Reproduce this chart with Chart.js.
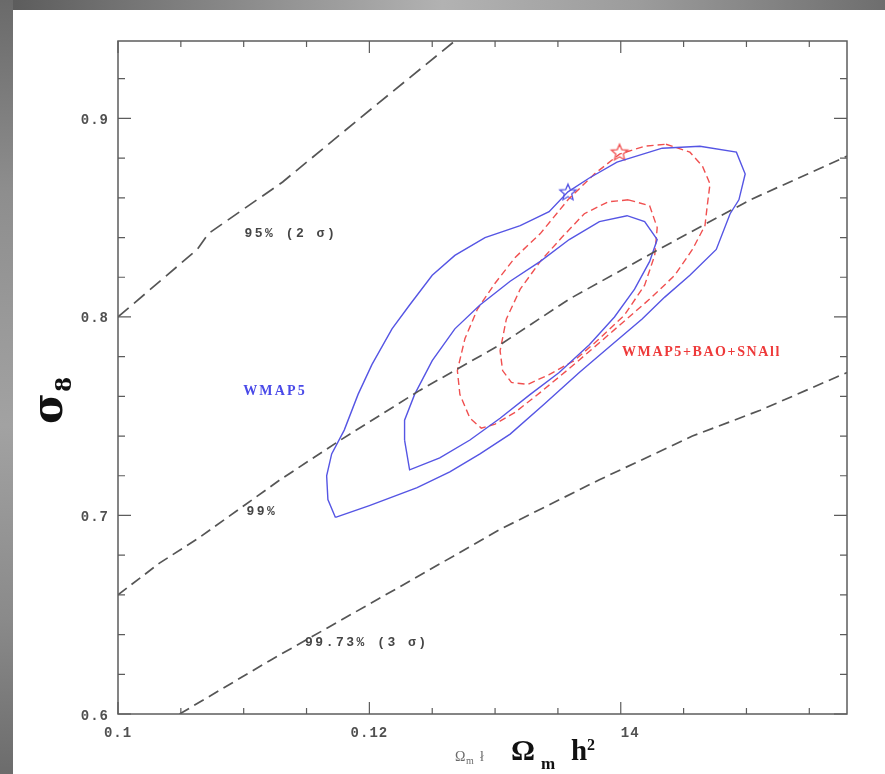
<!DOCTYPE html>
<html><head><meta charset="utf-8">
<script src="https://cdn.jsdelivr.net/npm/chart.js@4.4.1/dist/chart.umd.min.js"></script>
<style>
html,body{margin:0;padding:0;background:#fff;}
#wrap{position:relative;width:885px;height:774px;overflow:hidden;background:#fff;}
#topband{position:absolute;left:0;top:0;width:885px;height:10px;background:linear-gradient(90deg,#5a5a5a 0%,#7e7e7e 20%,#b2b2b2 50%,#9c9c9c 72%,#6e6e6e 100%);}
#leftband{position:absolute;left:0;top:0;width:13px;height:774px;background:linear-gradient(180deg,#6a6a6a 0%,#8e8e8e 25%,#a2a2a2 55%,#8a8a8a 80%,#6c6c6c 100%);}
canvas{position:absolute;left:0;top:0;}
</style></head>
<body><div id="wrap"><div id="topband"></div><div id="leftband"></div><canvas id="c" width="885" height="774"></canvas></div>
<script>
// ---- axis ticks ----
const xTicksMinor = [0.1,0.105,0.11,0.115,0.12,0.125,0.13,0.135,0.14,0.145,0.15,0.155];
const xTicksMajor = [0.1,0.12,0.14];
const xTickLabels = ['0.1','0.12','14'];
const yTicksMinor = [0.6,0.62,0.64,0.66,0.68,0.7,0.72,0.74,0.76,0.78,0.8,0.82,0.84,0.86,0.88,0.9,0.92];
const yTicksMajor = [0.6,0.7,0.8,0.9];
const yTickLabels = ['0.6','0.7','0.8','0.9'];

// ---- gray confidence lines ----
const line95X = [0.1, 0.1063, 0.1072, 0.1131, 0.1200, 0.1268];
const line95Y = [0.800, 0.834, 0.842, 0.868, 0.904, 0.939];
const line99X = [0.1, 0.1033, 0.1065, 0.1129, 0.1177, 0.1240, 0.1304, 0.1359, 0.1433, 0.1503, 0.158];
const line99Y = [0.660, 0.676, 0.689, 0.718, 0.738, 0.763, 0.786, 0.809, 0.835, 0.859, 0.881];
const line9973X = [0.1049, 0.1121, 0.1224, 0.1304, 0.1383, 0.1457, 0.1511, 0.158];
const line9973Y = [0.600, 0.627, 0.664, 0.693, 0.718, 0.740, 0.753, 0.772];

// ---- WMAP5 contours (blue) ----
const wmapOuterX = [0.1173,0.1167,0.1166,0.1170,0.1180,0.1191,0.1202,0.1218,0.1232,0.1250,0.1268,0.1292,0.1320,0.1343,0.1358,0.1375,0.1397,0.1433,0.1463,0.1492,0.1499,0.1494,0.1487,0.1476,0.1455,0.1435,0.1417,0.1391,0.1367,0.1339,0.1312,0.1288,0.1264,0.1238,0.1200,0.1173];
const wmapOuterY = [0.699,0.708,0.720,0.731,0.743,0.761,0.776,0.794,0.806,0.821,0.831,0.840,0.846,0.853,0.863,0.870,0.878,0.885,0.886,0.883,0.872,0.859,0.852,0.834,0.821,0.810,0.799,0.785,0.772,0.756,0.741,0.731,0.722,0.714,0.705,0.699];
const wmapInnerX = [0.1228,0.1232,0.1256,0.1280,0.1304,0.1328,0.1351,0.1375,0.1395,0.1411,0.1423,0.1429,0.1419,0.1405,0.1383,0.1359,0.1336,0.1312,0.1288,0.1268,0.1250,0.1236,0.1228,0.1228];
const wmapInnerY = [0.738,0.723,0.729,0.738,0.749,0.761,0.772,0.786,0.800,0.814,0.828,0.839,0.848,0.851,0.848,0.839,0.828,0.818,0.806,0.794,0.778,0.761,0.748,0.738];

// ---- WMAP5+BAO+SNAll contours (red) ----
const combOuterX = [0.1436,0.1455,0.1465,0.1471,0.1469,0.1467,0.1457,0.1443,0.1423,0.1403,0.1383,0.1359,0.1336,0.1316,0.1300,0.1289,0.1280,0.1272,0.1270,0.1276,0.1286,0.1300,0.1316,0.1336,0.1358,0.1379,0.1399,0.1419,0.1436];
const combOuterY = [0.887,0.883,0.876,0.867,0.857,0.846,0.834,0.821,0.809,0.798,0.787,0.774,0.762,0.752,0.746,0.744,0.749,0.761,0.773,0.789,0.804,0.817,0.830,0.842,0.859,0.872,0.882,0.886,0.887];
const combInnerX = [0.1406,0.1423,0.1429,0.1427,0.1419,0.1403,0.1383,0.1363,0.1343,0.1326,0.1313,0.1306,0.1304,0.1309,0.1320,0.1336,0.1353,0.1371,0.1390,0.1406];
const combInnerY = [0.859,0.856,0.845,0.831,0.816,0.801,0.789,0.778,0.771,0.766,0.767,0.773,0.783,0.799,0.814,0.828,0.840,0.852,0.858,0.859];

// ---- best-fit stars ----
const wmapStar = [0.1358, 0.8626];
const combStar = [0.1399, 0.8827];

// ---- annotations ----
const noteTexts = ['95% (2 σ)', '99%', '99.73% (3 σ)', 'WMAP5', 'WMAP5+BAO+SNAll'];
const noteX = [0.11375, 0.11145, 0.1198, 0.1125, 0.1401];
const noteY = [0.842, 0.7018, 0.6358, 0.7623, 0.782];

const noteStyle = [
  {font:'bold 13px "Liberation Mono"', color:'#454545', ls:'2.5px', align:'center'},
  {font:'bold 13px "Liberation Mono"', color:'#454545', ls:'2.5px', align:'center'},
  {font:'bold 13px "Liberation Mono"', color:'#454545', ls:'2.5px', align:'center'},
  {font:'bold 14px "Liberation Serif"', color:'#4a4ae8', ls:'2.2px', align:'center'},
  {font:'bold 14px "Liberation Serif"', color:'#ee3a3a', ls:'1.6px', align:'left'}
];

function pts(xs, ys){ return xs.map((v,i)=>({x:v, y:ys[i]})); }

function makeStar(color){
  const c=document.createElement('canvas'); c.width=22; c.height=22;
  const g=c.getContext('2d'); g.strokeStyle=color; g.lineWidth=1.3; g.beginPath();
  for(let i=0;i<10;i++){ const r=i%2?3.9:8.6; const a=-Math.PI/2+i*Math.PI/5; g.lineTo(11+r*Math.cos(a),11+r*Math.sin(a)); }
  g.closePath(); g.stroke(); return c;
}

const BLUE='rgb(85,85,228)', RED='rgb(240,80,80)', GRAY='#555555';

const overlay = {
  id:'overlay',
  afterDraw(chart){
    const {ctx, chartArea:a, scales:{x, y}} = chart;
    ctx.save();
    // frame
    ctx.strokeStyle='#5c5c5c'; ctx.lineWidth=1.5;
    ctx.strokeRect(a.left, a.top, a.right-a.left, a.bottom-a.top);
    // inward ticks on all four sides
    ctx.lineWidth=1.2; ctx.beginPath();
    xTicksMinor.forEach(v=>{ const p=x.getPixelForValue(v); const L=xTicksMajor.includes(v)?12:6;
      ctx.moveTo(p,a.bottom); ctx.lineTo(p,a.bottom-L); ctx.moveTo(p,a.top); ctx.lineTo(p,a.top+L); });
    yTicksMinor.forEach(v=>{ const p=y.getPixelForValue(v); const L=yTicksMajor.includes(v)?13:7;
      ctx.moveTo(a.left,p); ctx.lineTo(a.left+L,p); ctx.moveTo(a.right,p); ctx.lineTo(a.right-L,p); });
    ctx.stroke();
    // tick labels
    ctx.fillStyle='#505050'; ctx.font='bold 14px "Liberation Mono"'; ctx.letterSpacing='1px';
    ctx.textBaseline='middle';
    xTicksMajor.forEach((v,i)=>{ const t=xTickLabels[i];
      ctx.textAlign = t.indexOf('.')<0 ? 'left' : 'center';
      ctx.fillText(t, x.getPixelForValue(v), a.bottom+19); });
    ctx.textAlign='right';
    yTicksMajor.forEach((v,i)=>{ ctx.fillText(yTickLabels[i], a.left-9, y.getPixelForValue(v)+2); });
    ctx.letterSpacing='0px';
    // annotations
    noteTexts.forEach((t,i)=>{ const s=noteStyle[i];
      ctx.font=s.font; ctx.fillStyle=s.color; ctx.letterSpacing=s.ls; ctx.textAlign=s.align; ctx.textBaseline='middle';
      ctx.fillText(t, x.getPixelForValue(noteX[i]), y.getPixelForValue(noteY[i])); });
    ctx.letterSpacing='0px';
    // x title
    ctx.textAlign='left'; ctx.textBaseline='alphabetic'; ctx.fillStyle='#6a6a6a';
    ctx.font='14px "Liberation Serif"'; ctx.fillText('Ω', 455, 761);
    ctx.font='10px "Liberation Serif"'; ctx.fillText('m', 466, 764);
    ctx.font='14px "Liberation Serif"'; ctx.fillText('ł', 480, 761);
    ctx.fillStyle='#111';
    ctx.font='bold 30px "Liberation Serif"'; ctx.fillText('Ω', 511, 760);
    ctx.font='bold 17px "Liberation Serif"'; ctx.fillText('m', 541, 769);
    ctx.font='bold 29px "Liberation Serif"'; ctx.fillText('h', 571, 760);
    ctx.font='bold 16px "Liberation Serif"'; ctx.fillText('2', 587, 750);
    // y title (rotated)
    ctx.translate(62, 424); ctx.rotate(-Math.PI/2);
    ctx.font='bold 42px "DejaVu Serif"'; ctx.fillText('σ', 0, 0);
    const w=ctx.measureText('σ').width;
    ctx.font='bold 22px "DejaVu Serif"'; ctx.fillText('8', w+1, 9);
    ctx.restore();
  }
};

function lineDs(xs, ys, color, width, dash){
  return {data:pts(xs,ys), showLine:true, borderColor:color, borderWidth:width, borderDash:dash, pointRadius:0, fill:false, tension:0};
}

new Chart(document.getElementById('c').getContext('2d'), {
  type:'scatter',
  data:{datasets:[
    lineDs(line95X, line95Y, GRAY, 1.7, [14,7]),
    lineDs(line99X, line99Y, GRAY, 1.7, [11,6]),
    lineDs(line9973X, line9973Y, GRAY, 1.7, [11,6]),
    lineDs(wmapOuterX, wmapOuterY, BLUE, 1.4, []),
    lineDs(wmapInnerX, wmapInnerY, BLUE, 1.4, []),
    lineDs(combOuterX, combOuterY, RED, 1.4, [7,4]),
    lineDs(combInnerX, combInnerY, RED, 1.4, [7,4]),
    {data:[{x:wmapStar[0], y:wmapStar[1]}], pointStyle:makeStar(BLUE), pointRadius:9, showLine:false},
    {data:[{x:combStar[0], y:combStar[1]}], pointStyle:makeStar(RED), pointRadius:9, showLine:false}
  ]},
  options:{
    responsive:false, animation:false,
    layout:{padding:{left:118, top:41, right:38, bottom:60}},
    scales:{
      x:{type:'linear', min:0.1, max:0.158, display:false},
      y:{type:'linear', min:0.6, max:0.939, display:false}
    },
    plugins:{legend:{display:false}, tooltip:{enabled:false}}
  },
  plugins:[overlay]
});
</script>
</body></html>
